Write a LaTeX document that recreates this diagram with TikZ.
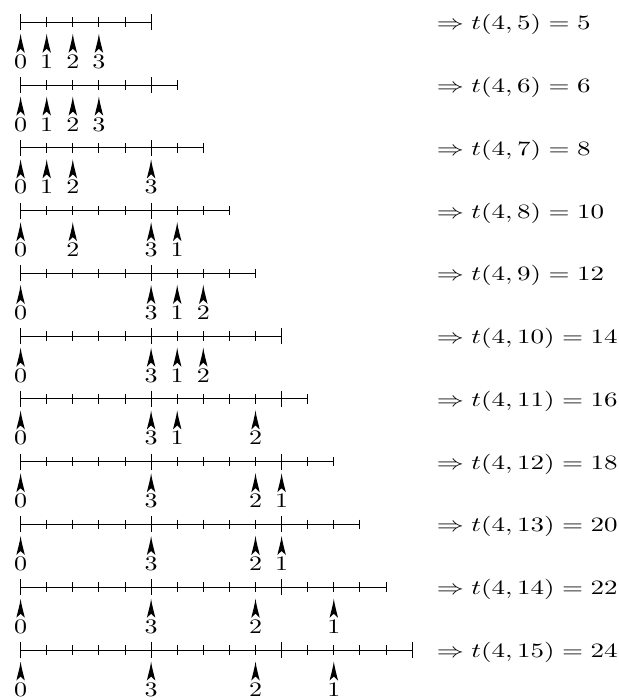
\documentclass[tikz,border=0pt]{standalone}
\usepackage{graphicx}
\begin{document}
\begin{tikzpicture}[x=0.5pt,y=-0.5pt,
  axisline/.style={line width=0.5pt},
  tickmark/.style={line width=0.5pt},
  upmark/.pic={\fill (0,11.5) .. controls (0.8,18) and (3,25) .. (4.2,30.5) -- (0,26.5) -- (-4.2,30.5) .. controls (-3,25) and (-0.8,18) .. (0,11.5) -- cycle;},
  poslabel/.style={anchor=base,inner sep=0pt},
  result/.style={anchor=base west,inner sep=0pt}]
\useasboundingbox (0,0) rectangle (619,700);
\foreach \n/\arr/\res [count=\i from 0] in {
  5/{0/0,1/1,2/2,3/3}/5,
  6/{0/0,1/1,2/2,3/3}/6,
  7/{0/0,1/1,2/2,3/5}/8,
  8/{0/0,2/2,3/5,1/6}/10,
  9/{0/0,3/5,1/6,2/7}/12,
  10/{0/0,3/5,1/6,2/7}/14,
  11/{0/0,3/5,1/6,2/9}/16,
  12/{0/0,3/5,2/9,1/10}/18,
  13/{0/0,3/5,2/9,1/10}/20,
  14/{0/0,3/5,2/9,1/12}/22,
  15/{0/0,3/5,2/9,1/12}/24}{
  \pgfmathsetmacro\L{22.3+62.77*\i}
  \pgfmathsetmacro\xend{20.6+26.1*\n}
  \draw[axisline] (20.6,\L) -- (\xend,\L);
  \foreach \k in {0,...,\n}{
    \pgfmathsetmacro\tl{mod(\k,5)==0 ? 8 : 4.8}
    \pgfmathsetmacro\xk{20.6+26.1*\k}
    \draw[tickmark] (\xk,\L-\tl) -- (\xk,\L+\tl);
  }
  \foreach \lab/\pos in \arr{
    \pgfmathsetmacro\xp{20.6+26.1*\pos}
    \pic at (\xp,\L) {upmark};
    \node[poslabel] (lab-\i-\lab) at (\xp,\L+46) {\scalebox{1.3}[1.03]{\lab}};
  }
  \node[result] (res-\i) at (436.5,\L+7.5) {\scalebox{1.35}[1.02]{$\Rightarrow t(4,\n)=\res$}};
}
\end{tikzpicture}
\end{document}
